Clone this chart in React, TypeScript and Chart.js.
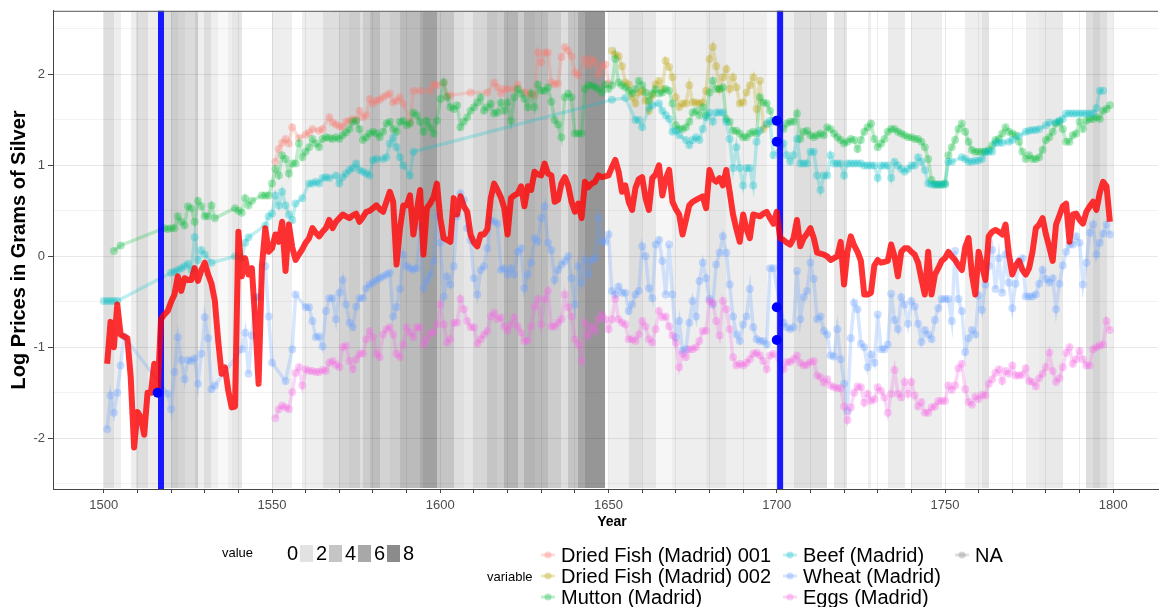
import React, { useEffect, useRef } from "react";
import { Chart, registerables } from "chart.js";
Chart.register(...registerables);

const FONT = '"Liberation Sans", Arial, sans-serif';
const X_MIN = 1484.9;
const X_MAX = 1813.3;
const Y_MIN = -2.557;
const Y_MAX = 2.699;

const xTickValues = [1500,1510,1520,1530,1540,1550,1560,1570,1580,1590,1600,1610,1620,1630,1640,1650,1660,1670,1680,1690,1700,1710,1720,1730,1740,1750,1760,1770,1780,1790,1800];
const xLabelValues = [1500, 1550, 1600, 1650, 1700, 1750, 1800];
const yTickValues = [-2.5,-2,-1.5,-1,-0.5,0,0.5,1,1.5,2,2.5];
const yLabelValues = [-2, -1, 0, 1, 2];

// background "value" bands (start year, end year, value)
const bandStart = [1500,1503,1505,1508,1509.5,1513,1518,1520,1522,1524,1527,1528,1530,1532,1534,1537,1538,1541,1550,1556,1559,1565,1570,1573,1576,1577,1579,1582,1585,1588,1594,1595,1599,1604,1607,1610,1614,1617,1619,1623,1625,1628,1632,1636,1638,1641,1643,1649,1650,1656,1660,1664,1669,1679,1685,1697,1701,1705,1715,1717,1721,1727,1728,1733,1738,1740,1749,1756,1761,1763,1774,1778,1785,1792,1794,1796,1798];
const bandEnd   = [1503,1505,1508,1509.5,1513,1518,1520,1522,1524,1527,1528,1530,1532,1534,1537,1538,1541,1550,1556,1559,1565,1570,1573,1576,1577,1579,1582,1585,1588,1594,1595,1599,1604,1607,1610,1614,1617,1619,1623,1625,1628,1632,1636,1638,1641,1643,1649,1650,1656,1660,1664,1669,1679,1685,1697,1701,1705,1715,1717,1721,1727,1728,1733,1738,1740,1749,1756,1761,1763,1774,1778,1785,1792,1794,1796,1798,1800];
const bandValue = [2.3,1.2,0,1.2,2.3,1.2,2.3,3.5,3.0,2.5,3.5,1.2,2.3,1.2,0.5,1.2,1.7,0,1.2,0,1.2,2.3,3.0,3.5,2.3,3.5,4.5,3.0,3.5,4.7,5.8,6.5,4.0,2.3,1.7,2.8,4.0,3.5,5.2,3.5,5.2,4.7,3.5,2.3,4.0,6.0,7.2,0,1.2,2.3,1.7,0.6,1.2,1.7,1.2,0.5,1.2,2.3,0,1.7,0,1.2,0,1.4,0,1.2,0,1.2,2.0,0,1.2,1.5,0,2.3,3.0,2.3,1.2];
const legendValues = [0, 2, 4, 6, 8];
const ALPHA_PER_VALUE = 0.057;

const composite: [number, number][] = [
[1501,-1.18],[1502,-0.72],[1503,-1.0],[1504,-0.53],[1505,-0.86],[1506,-0.88],[1507,-0.9],[1508,-1.33],[1509,-2.1],[1510,-1.71],
[1511,-1.77],[1512,-1.96],[1513,-1.5],[1514,-1.5],[1515,-1.18],[1516,-1.5],[1517,-0.69],[1518,-0.64],[1519,-0.6],[1520,-0.5],
[1521,-0.42],[1522,-0.22],[1523,-0.38],[1524,-0.24],[1525,-0.26],[1526,-0.26],[1527,-0.13],[1528,-0.27],[1529,-0.15],[1530,-0.07],
[1531,-0.2],[1532,-0.3],[1533,-0.49],[1534,-0.93],[1535,-1.29],[1536,-1.22],[1537,-1.48],[1538,-1.66],[1539,-1.65],[1540,0.27],
[1541,-0.22],[1542,-0.02],[1543,-0.2],[1544,-0.13],[1545,-0.71],[1546,-1.4],[1547,-0.1],[1548,0.31],[1549,0.05],[1550,0.09],
[1551,0.24],[1552,0.16],[1553,0.38],[1554,-0.16],[1555,0.35],[1556,0.1],[1557,-0.04],[1558,0.02],[1559,0.08],[1560,0.15],
[1561,0.2],[1562,0.31],[1563,0.26],[1564,0.22],[1565,0.27],[1566,0.31],[1567,0.4],[1568,0.31],[1569,0.38],[1570,0.42],
[1571,0.46],[1572,0.44],[1573,0.42],[1574,0.45],[1575,0.47],[1576,0.38],[1577,0.43],[1578,0.49],[1579,0.5],[1580,0.53],
[1581,0.56],[1582,0.52],[1583,0.49],[1584,0.6],[1585,0.71],[1586,0.6],[1587,-0.09],[1588,0.3],[1589,0.56],[1590,0.56],
[1591,0.67],[1592,0.24],[1593,0.5],[1594,0.73],[1595,0.02],[1596,0.53],[1597,0.58],[1598,0.65],[1599,0.8],[1600,0.42],
[1601,0.2],[1602,0.18],[1603,0.16],[1604,0.64],[1605,0.46],[1606,0.66],[1607,0.55],[1608,0.49],[1609,0.24],[1610,0.15],
[1611,0.11],[1612,0.24],[1613,0.24],[1614,0.3],[1615,0.64],[1616,0.8],[1617,0.73],[1618,0.65],[1619,0.53],[1620,0.24],
[1621,0.64],[1622,0.67],[1623,0.69],[1624,0.77],[1625,0.55],[1626,0.77],[1627,0.73],[1628,0.93],[1629,0.9],[1630,0.89],
[1631,1.02],[1632,0.91],[1633,0.89],[1634,0.6],[1635,0.62],[1636,0.8],[1637,0.87],[1638,0.78],[1639,0.6],[1640,0.49],
[1641,0.58],[1642,0.42],[1643,0.82],[1644,0.76],[1645,0.8],[1646,0.82],[1647,0.89],[1648,0.87],[1649,0.88],[1650,0.89],
[1651,0.98],[1652,1.06],[1653,0.93],[1654,0.71],[1655,0.78],[1656,0.6],[1657,0.51],[1658,0.75],[1659,0.85],[1660,0.87],
[1661,0.64],[1662,0.51],[1663,0.86],[1664,0.9],[1665,1.0],[1666,0.67],[1667,0.85],[1668,0.95],[1669,0.6],[1670,0.52],
[1671,0.46],[1672,0.24],[1673,0.4],[1674,0.56],[1675,0.6],[1676,0.62],[1677,0.64],[1678,0.66],[1679,0.53],[1680,0.95],
[1681,0.85],[1682,0.82],[1683,0.86],[1684,0.78],[1685,0.95],[1686,0.71],[1687,0.46],[1688,0.3],[1689,0.16],[1690,0.46],
[1691,0.3],[1692,0.2],[1693,0.46],[1694,0.45],[1695,0.44],[1696,0.47],[1697,0.49],[1698,0.42],[1699,0.36],[1700,0.49],
[1701,0.2],[1702,0.18],[1703,0.15],[1704,0.13],[1705,0.2],[1706,0.4],[1707,0.11],[1708,0.2],[1709,0.25],[1710,0.31],
[1711,0.2],[1712,0.04],[1713,0.03],[1714,0.02],[1715,0.0],[1716,-0.04],[1717,-0.02],[1718,0.0],[1719,0.16],[1720,-0.31],
[1721,0.05],[1722,0.22],[1723,0.12],[1724,0.05],[1725,-0.05],[1726,-0.42],[1727,-0.42],[1728,-0.4],[1729,-0.1],[1730,-0.04],
[1731,-0.07],[1732,-0.06],[1733,-0.05],[1734,0.13],[1735,0.0],[1736,-0.22],[1737,0.05],[1738,0.09],[1739,0.09],[1740,0.05],
[1741,0.02],[1742,-0.07],[1743,-0.25],[1744,-0.42],[1745,0.05],[1746,-0.42],[1747,-0.2],[1748,-0.13],[1749,-0.05],[1750,-0.02],
[1751,0.05],[1752,0.0],[1753,-0.04],[1754,-0.1],[1755,-0.15],[1756,0.1],[1757,0.2],[1758,-0.2],[1759,-0.42],[1760,0.05],
[1761,-0.1],[1762,-0.26],[1763,0.22],[1764,0.27],[1765,0.29],[1766,0.27],[1767,0.24],[1768,0.35],[1769,0.02],[1770,-0.2],
[1771,-0.1],[1772,-0.05],[1773,-0.15],[1774,-0.2],[1775,-0.13],[1776,0.05],[1777,0.31],[1778,0.35],[1779,0.42],[1780,0.24],
[1781,0.1],[1782,-0.05],[1783,0.35],[1784,0.45],[1785,0.55],[1786,0.58],[1787,0.16],[1788,0.46],[1789,0.47],[1790,0.4],
[1791,0.36],[1792,0.49],[1793,0.55],[1794,0.6],[1795,0.51],[1796,0.7],[1797,0.82],[1798,0.77],[1799,0.38]];

const wheat: [number, number][] = [
[1501,-1.9],[1502,-1.53],[1503,-1.72],[1504,-1.5],[1505,-1.2],[1506,-0.88],[1519,-1.51],[1520,-1.68],[1521,-1.27],[1522,-0.89],
[1523,-1.14],[1524,-1.35],[1525,-1.14],[1526,-1.15],[1527,-1.12],[1528,-1.4],[1529,-1.07],[1530,-0.67],[1531,-0.9],[1532,-1.46],
[1533,-1.42],[1541,-1.02],[1542,-0.84],[1543,-1.29],[1544,-0.87],[1545,-0.45],[1546,-0.45],[1548,-0.11],[1549,-0.66],[1550,-1.17],
[1554,-1.37],[1556,-1.02],[1557,-0.42],[1560,-0.56],[1561,-0.56],[1562,-0.71],[1563,-0.89],[1564,-0.88],[1565,-0.99],[1566,-0.6],
[1567,-0.46],[1568,-0.46],[1569,-0.69],[1570,-0.4],[1571,-0.26],[1572,-0.53],[1573,-0.73],[1574,-0.78],[1575,-0.55],[1576,-0.46],
[1577,-0.46],[1578,-0.35],[1579,-0.31],[1580,-0.29],[1581,-0.26],[1582,-0.24],[1583,-0.22],[1584,-0.2],[1585,-0.18],[1586,-0.66],
[1587,-0.56],[1588,-0.36],[1589,0.02],[1590,-0.11],[1591,-0.13],[1592,-0.15],[1593,-0.13],[1594,0.33],[1595,-0.35],[1596,-0.27],
[1597,-0.2],[1598,-0.05],[1599,0.44],[1600,0.15],[1601,-0.44],[1602,-0.22],[1603,-0.31],[1604,-0.11],[1605,0.44],[1606,0.69],
[1607,0.62],[1608,0.31],[1609,0.18],[1610,-0.24],[1611,-0.42],[1612,-0.15],[1613,-0.11],[1614,0.09],[1615,0.4],[1616,0.38],
[1617,0.36],[1618,-0.15],[1619,-0.13],[1620,-0.2],[1621,-0.13],[1622,-0.2],[1623,0.05],[1624,0.09],[1625,-0.35],[1626,-0.2],
[1627,-0.07],[1628,0.2],[1629,0.16],[1630,0.42],[1631,0.55],[1632,0.15],[1633,0.07],[1634,-0.26],[1635,-0.15],[1636,-0.09],
[1637,-0.05],[1638,0],[1639,-0.24],[1640,-0.53],[1641,-0.11],[1642,-0.29],[1643,-0.04],[1644,-0.2],[1645,-0.04],[1646,-0.02],
[1647,0.42],[1648,0.16],[1649,0.16],[1650,0.24],[1651,-0.38],[1652,-0.42],[1653,-0.33],[1654,-0.4],[1655,-0.4],[1656,-0.6],
[1657,-0.53],[1658,-0.42],[1659,-0.38],[1660,0.11],[1661,0],[1662,-0.35],[1663,-0.46],[1664,0.13],[1665,0.18],[1666,-0.05],
[1667,-0.42],[1668,0.13],[1669,-0.42],[1670,-0.89],[1671,-0.71],[1672,-1.04],[1673,-1.02],[1674,-0.73],[1675,-0.49],[1676,-0.66],
[1677,-0.27],[1678,-0.07],[1679,-0.24],[1680,-0.47],[1681,-0.53],[1682,-0.09],[1683,0.04],[1684,0.22],[1685,0.04],[1686,-0.31],
[1687,-0.66],[1688,-0.86],[1689,-0.93],[1690,-0.75],[1691,-0.66],[1692,-0.36],[1693,-0.78],[1694,-0.91],[1695,-0.93],[1696,-0.93],
[1697,-0.97],[1698,-0.13],[1699,-0.13],[1702,-0.73],[1703,-0.78],[1704,-0.8],[1705,-0.78],[1706,-0.16],[1707,-0.69],[1708,-0.45],
[1709,-0.38],[1710,-0.07],[1711,-0.25],[1712,-0.69],[1713,-0.66],[1714,-0.82],[1715,-0.86],[1716,-1.09],[1717,-1.1],[1718,-0.8],
[1719,-1.13],[1720,-1.4],[1721,-1.7],[1722,-0.9],[1723,-0.51],[1724,-0.58],[1725,-0.96],[1726,-1.0],[1727,-1.22],[1728,-1.08],
[1729,-1.17],[1730,-0.64],[1731,-1.02],[1732,-1.02],[1733,-0.97],[1734,-0.41],[1735,-0.7],[1736,-0.8],[1737,-0.45],[1738,-0.53],
[1739,-0.74],[1740,-0.49],[1741,-0.55],[1742,-0.74],[1743,-0.94],[1744,-0.81],[1745,-0.86],[1746,-0.91],[1747,-0.7],[1748,-0.57],
[1749,-0.47],[1750,-0.47],[1751,-0.47],[1752,-0.71],[1753,0.06],[1754,-0.47],[1755,-0.6],[1756,-1.05],[1757,-0.9],[1758,-0.81],
[1759,-0.86],[1760,-0.43],[1761,-0.59],[1762,-0.31],[1763,-0.11],[1764,0.07],[1765,-0.36],[1766,-0.02],[1767,-0.4],[1768,0.02],
[1769,-0.29],[1770,-0.57],[1771,-0.3],[1772,-0.05],[1773,-0.02],[1774,-0.44],[1775,-0.44],[1776,-0.44],[1777,-0.42],[1778,-0.3],
[1779,-0.15],[1780,-0.25],[1781,-0.29],[1782,-0.24],[1783,-0.58],[1784,-0.3],[1785,-0.1],[1786,0.05],[1787,0.13],[1788,0.13],
[1789,0.22],[1790,0.15],[1791,-0.31],[1792,-0.07],[1793,0.26],[1794,0.35],[1795,0.02],[1796,0.15],[1797,0.25],[1798,0.35],[1799,0.24]];

const eggs: [number, number][] = [
[1551,-1.78],[1552,-1.68],[1553,-1.64],[1554,-1.66],[1555,-1.68],[1556,-1.49],[1557,-1.28],[1558,-1.22],[1559,-1.42],[1560,-1.24],
[1561,-1.26],[1562,-1.26],[1563,-1.27],[1564,-1.27],[1565,-1.25],[1566,-1.26],[1567,-1.17],[1568,-1.15],[1569,-1.19],[1570,-1.22],
[1571,-1.0],[1572,-0.98],[1573,-1.15],[1574,-1.24],[1575,-1.13],[1576,-1.07],[1577,-1.07],[1578,-0.91],[1579,-0.82],[1580,-0.89],
[1581,-1.07],[1582,-1.11],[1583,-0.86],[1584,-0.8],[1585,-0.78],[1586,-0.86],[1587,-1.07],[1588,-1.11],[1589,-0.97],[1590,-0.78],
[1591,-0.84],[1592,-0.89],[1593,-0.78],[1594,-0.78],[1595,-0.97],[1596,-0.91],[1597,-0.84],[1598,-0.84],[1599,-0.75],[1600,-0.53],
[1601,-0.75],[1602,-0.95],[1603,-0.91],[1604,-0.73],[1605,-0.73],[1606,-0.47],[1607,-0.58],[1608,-0.71],[1609,-0.78],[1610,-0.78],
[1611,-0.96],[1612,-0.91],[1613,-0.86],[1614,-0.82],[1615,-0.66],[1616,-0.62],[1617,-0.69],[1618,-0.67],[1619,-0.77],[1620,-0.82],
[1621,-0.75],[1622,-0.67],[1623,-0.77],[1624,-0.84],[1625,-0.93],[1626,-0.93],[1627,-0.77],[1628,-0.55],[1629,-0.47],[1630,-0.75],
[1631,-0.47],[1632,-0.38],[1633,-0.77],[1634,-0.77],[1635,-0.73],[1636,-0.69],[1637,-0.42],[1638,-0.56],[1639,-0.66],[1640,-0.91],
[1641,-0.97],[1642,-1.15],[1643,-0.73],[1644,-0.87],[1645,-0.77],[1646,-0.82],[1647,-0.69],[1648,-0.64],[1649,-0.69],[1650,-0.8],
[1651,-0.69],[1652,-0.47],[1653,-0.69],[1654,-0.73],[1655,-0.75],[1656,-0.91],[1657,-0.91],[1658,-0.93],[1659,-0.86],[1660,-0.71],
[1661,-0.77],[1662,-0.91],[1663,-0.95],[1664,-0.8],[1665,-0.6],[1666,-0.67],[1667,-0.66],[1668,-0.77],[1669,-0.87],[1670,-0.95],
[1671,-1.22],[1672,-1.07],[1673,-1.11],[1674,-1.02],[1675,-1.02],[1676,-1.0],[1677,-0.93],[1678,-0.82],[1679,-0.82],[1680,-0.49],
[1681,-0.51],[1682,-0.71],[1683,-0.87],[1684,-0.49],[1685,-0.58],[1686,-0.8],[1687,-1.11],[1688,-1.2],[1689,-1.18],[1690,-1.2],
[1691,-1.17],[1692,-1.13],[1693,-1.07],[1694,-1.06],[1695,-1.09],[1696,-1.15],[1697,-1.24],[1698,-1.09],[1699,-1.07],[1702,-1.24],
[1703,-1.16],[1704,-1.16],[1705,-1.13],[1706,-1.09],[1707,-1.17],[1708,-1.2],[1709,-1.19],[1710,-1.16],[1711,-1.15],[1712,-1.31],
[1713,-1.33],[1714,-1.39],[1715,-1.35],[1716,-1.42],[1717,-1.44],[1718,-1.45],[1719,-1.45],[1720,-1.65],[1721,-1.8],[1722,-1.66],
[1723,-1.5],[1724,-1.43],[1725,-1.44],[1726,-1.61],[1727,-1.51],[1728,-1.59],[1729,-1.57],[1730,-1.44],[1731,-1.48],[1732,-1.55],
[1733,-1.72],[1734,-1.51],[1735,-1.25],[1736,-1.51],[1737,-1.55],[1738,-1.38],[1739,-1.51],[1740,-1.38],[1741,-1.53],[1742,-1.65],
[1743,-1.6],[1744,-1.72],[1745,-1.72],[1746,-1.66],[1747,-1.65],[1748,-1.59],[1749,-1.59],[1750,-1.59],[1751,-1.42],[1752,-1.47],
[1753,-1.42],[1754,-1.23],[1755,-1.18],[1756,-1.46],[1757,-1.6],[1758,-1.63],[1759,-1.54],[1760,-1.57],[1761,-1.52],[1762,-1.53],
[1763,-1.4],[1764,-1.35],[1765,-1.28],[1766,-1.24],[1767,-1.37],[1768,-1.26],[1769,-1.29],[1770,-1.2],[1771,-1.31],[1772,-1.31],
[1773,-1.3],[1774,-1.23],[1775,-1.37],[1776,-1.38],[1777,-1.43],[1778,-1.34],[1779,-1.29],[1780,-1.22],[1781,-1.06],[1782,-1.26],
[1783,-1.38],[1784,-1.34],[1785,-1.22],[1786,-1.06],[1787,-1.0],[1788,-1.18],[1789,-1.13],[1790,-1.04],[1791,-1.13],[1792,-1.2],
[1793,-1.2],[1794,-1.02],[1795,-1.0],[1796,-0.98],[1797,-0.97],[1798,-0.71],[1799,-0.81]];

const mutton: [number, number][] = [
[1503,0.06],[1505,0.12],[1518,0.31],[1519,0.3],[1520,0.31],[1521,0.31],[1522,0.44],[1523,0.38],[1524,0.34],[1525,0.55],
[1526,0.53],[1527,0.38],[1528,0.61],[1529,0.55],[1530,0.44],[1531,0.44],[1532,0.56],[1533,0.42],[1539,0.53],[1540,0.5],
[1541,0.48],[1542,0.64],[1543,0.56],[1544,0.61],[1547,0.67],[1548,0.67],[1549,0.67],[1550,0.8],[1551,0.96],[1552,0.89],
[1553,1.11],[1554,1.07],[1555,0.91],[1556,1.02],[1557,1.02],[1558,1.24],[1559,1.09],[1560,1.15],[1561,1.2],[1562,1.29],
[1563,1.24],[1564,1.2],[1565,1.29],[1566,1.31],[1567,1.3],[1568,1.29],[1569,1.31],[1570,1.29],[1571,1.33],[1572,1.36],
[1573,1.4],[1574,1.48],[1575,1.49],[1576,1.4],[1577,1.28],[1578,1.31],[1579,1.35],[1580,1.37],[1581,1.35],[1582,1.31],
[1583,1.37],[1584,1.46],[1585,1.48],[1586,1.4],[1587,1.37],[1588,1.48],[1589,1.49],[1590,1.44],[1591,1.46],[1592,1.58],
[1593,1.55],[1594,1.48],[1595,1.37],[1596,1.49],[1597,1.42],[1598,1.35],[1599,1.49],[1600,1.73],[1601,1.91],[1602,1.75],
[1603,1.64],[1604,1.62],[1605,1.66],[1606,1.42],[1607,1.48],[1608,1.53],[1609,1.6],[1610,1.64],[1611,1.69],[1612,1.75],
[1613,1.6],[1614,1.64],[1615,1.68],[1616,1.57],[1617,1.58],[1618,1.69],[1619,1.6],[1620,1.69],[1621,1.49],[1622,1.75],
[1623,1.84],[1624,1.79],[1625,1.73],[1626,1.64],[1627,1.79],[1628,1.64],[1629,1.89],[1630,1.82],[1631,1.82],[1632,1.86],
[1633,1.7],[1634,1.5],[1635,1.45],[1636,1.31],[1637,1.75],[1638,1.79],[1639,1.75],[1640,1.35],[1641,1.35],[1642,1.35],
[1643,1.84],[1644,1.88],[1645,1.88],[1646,1.86],[1647,1.84],[1648,1.8],[1649,1.89],[1650,1.84],[1651,1.88],[1652,2.17],
[1653,1.91],[1654,1.88],[1655,1.86],[1656,1.82],[1657,1.79],[1658,1.84],[1659,1.93],[1660,1.88],[1661,1.8],[1662,1.71],
[1663,1.79],[1664,1.84],[1665,1.79],[1666,1.8],[1667,1.84],[1668,1.82],[1669,1.68],[1670,1.44],[1671,1.4],[1672,1.4],
[1673,1.42],[1674,1.48],[1675,1.58],[1676,1.6],[1677,1.55],[1678,1.64],[1679,1.55],[1680,1.8],[1681,1.93],[1682,1.84],
[1683,1.84],[1684,1.86],[1685,1.51],[1686,1.48],[1687,1.38],[1688,1.38],[1689,1.35],[1690,1.31],[1691,1.31],[1692,1.35],
[1693,1.37],[1694,1.35],[1695,1.75],[1696,1.69],[1697,1.68],[1698,1.6],[1699,1.48],[1702,1.4],[1703,1.46],[1704,1.48],
[1705,1.48],[1706,1.57],[1707,1.29],[1708,1.37],[1709,1.38],[1710,1.33],[1711,1.31],[1712,1.33],[1713,1.35],[1714,1.33],
[1715,1.42],[1716,1.4],[1717,1.35],[1718,1.31],[1719,1.28],[1720,1.24],[1721,1.26],[1722,1.29],[1723,1.28],[1724,1.18],
[1725,1.28],[1726,1.37],[1727,1.42],[1728,1.46],[1729,1.29],[1730,1.2],[1731,1.24],[1732,1.29],[1733,1.37],[1734,1.4],
[1735,1.4],[1736,1.37],[1737,1.35],[1738,1.33],[1739,1.31],[1740,1.31],[1741,1.29],[1742,1.29],[1743,1.26],[1744,1.2],
[1745,1.07],[1746,0.84],[1747,0.79],[1748,0.79],[1749,0.79],[1750,0.8],[1751,1.11],[1752,1.2],[1753,1.28],[1754,1.4],
[1755,1.46],[1756,1.37],[1757,1.26],[1758,1.17],[1759,1.15],[1760,1.15],[1761,1.15],[1762,1.15],[1763,1.17],[1764,1.22],
[1765,1.28],[1766,1.29],[1767,1.35],[1768,1.42],[1769,1.37],[1770,1.35],[1771,1.33],[1772,1.26],[1773,1.15],[1774,1.07],
[1775,1.11],[1776,1.07],[1777,1.07],[1778,1.09],[1779,1.17],[1780,1.28],[1781,1.31],[1782,1.37],[1783,1.46],[1784,1.48],
[1785,1.4],[1786,1.26],[1787,1.26],[1788,1.33],[1789,1.35],[1790,1.48],[1791,1.4],[1792,1.49],[1793,1.51],[1794,1.51],
[1795,1.53],[1796,1.51],[1797,1.6],[1798,1.62],[1799,1.66]];

const beef: [number, number][] = [
[1500,-0.49],[1501,-0.49],[1502,-0.49],[1503,-0.49],[1504,-0.49],[1520,-0.18],[1521,-0.17],[1522,-0.15],[1523,-0.13],[1524,-0.11],
[1525,-0.08],[1526,-0.15],[1527,0.21],[1528,-0.04],[1529,0.07],[1530,0.02],[1532,-0.07],[1539,0.0],[1541,-0.02],[1542,0.15],
[1543,0.21],[1548,0.34],[1549,0.44],[1550,0.47],[1551,0.67],[1552,0.56],[1553,0.71],[1554,0.56],[1555,0.46],[1556,0.4],
[1557,0.58],[1559,0.64],[1561,0.8],[1562,0.8],[1563,0.82],[1564,0.8],[1565,0.86],[1566,0.87],[1567,0.86],[1569,0.89],
[1570,0.8],[1571,0.87],[1572,0.91],[1573,0.95],[1574,0.97],[1575,1.02],[1576,0.95],[1577,0.93],[1578,0.91],[1579,0.89],
[1580,1.06],[1581,1.07],[1583,1.07],[1584,1.09],[1585,1.24],[1586,1.31],[1587,1.2],[1588,1.09],[1589,1.0],[1591,0.89],
[1592,1.15],[1651,1.72],[1655,1.74],[1658,1.5],[1659,1.5],[1660,1.42],[1662,1.63],[1663,1.66],[1665,1.68],[1666,1.6],
[1667,1.55],[1668,1.51],[1669,1.37],[1670,1.38],[1671,1.33],[1673,1.28],[1674,1.22],[1675,1.28],[1676,1.31],[1677,1.28],
[1678,1.4],[1679,1.53],[1680,1.58],[1681,1.48],[1682,1.58],[1683,1.58],[1684,1.58],[1685,1.48],[1686,1.29],[1687,0.97],
[1688,1.2],[1689,0.97],[1690,0.78],[1691,0.97],[1692,0.97],[1693,0.78],[1694,1.26],[1695,1.38],[1697,1.46],[1698,1.49],
[1699,1.11],[1702,1.24],[1703,1.11],[1704,1.04],[1705,1.11],[1706,1.29],[1707,1.02],[1708,1.02],[1709,1.02],[1710,1.15],
[1711,1.15],[1712,0.89],[1713,0.73],[1714,0.89],[1715,0.89],[1716,1.11],[1717,1.02],[1718,1.02],[1719,1.02],[1720,0.89],
[1721,1.02],[1722,1.02],[1723,1.02],[1724,1.02],[1725,1.02],[1726,1.0],[1727,1.0],[1728,1.0],[1729,1.0],[1730,0.86],
[1731,1.0],[1732,1.0],[1733,1.0],[1734,0.86],[1735,1.04],[1736,1.0],[1737,0.96],[1738,0.93],[1739,0.96],[1740,1.0],
[1741,1.0],[1742,1.09],[1743,1.04],[1744,0.95],[1745,0.8],[1746,0.79],[1747,0.79],[1748,0.79],[1749,0.79],[1750,0.79],
[1751,1.04],[1752,1.04],[1755,1.09],[1756,1.07],[1757,1.04],[1758,1.04],[1759,1.05],[1760,1.05],[1761,1.07],[1762,1.15],
[1763,1.15],[1764,1.15],[1765,1.25],[1766,1.25],[1767,1.25],[1769,1.26],[1770,1.28],[1772,1.32],[1774,1.37],[1775,1.38],
[1776,1.39],[1777,1.39],[1778,1.4],[1780,1.44],[1781,1.47],[1783,1.47],[1784,1.49],[1785,1.51],[1786,1.57],[1787,1.57],
[1788,1.57],[1789,1.57],[1790,1.57],[1791,1.57],[1792,1.57],[1793,1.57],[1794,1.57],[1795,1.63],[1796,1.82],[1797,1.82]];

const driedFish001: [number, number][] = [
[1551,1.04],[1552,1.18],[1553,1.25],[1554,1.29],[1555,1.24],[1556,1.42],[1558,1.3],[1560,1.34],[1561,1.36],[1562,1.4],
[1564,1.38],[1565,1.4],[1567,1.53],[1568,1.47],[1569,1.45],[1570,1.43],[1571,1.42],[1572,1.48],[1573,1.49],[1574,1.51],
[1575,1.5],[1576,1.6],[1577,1.53],[1578,1.55],[1579,1.73],[1580,1.68],[1581,1.71],[1582,1.72],[1583,1.75],[1584,1.77],
[1585,1.79],[1586,1.69],[1587,1.71],[1588,1.75],[1589,1.68],[1591,1.48],[1592,1.82],[1594,1.82],[1597,1.82],[1598,1.89],
[1599,1.88],[1601,1.91],[1602,1.76],[1603,1.77],[1609,1.8],[1614,1.8],[1616,1.91],[1617,1.86],[1618,1.79],[1619,1.84],
[1620,1.84],[1622,1.84],[1623,1.89],[1625,1.8],[1626,1.8],[1627,1.77],[1628,1.77],[1629,2.24],[1630,2.13],[1631,2.24],
[1632,2.24],[1633,1.91],[1634,1.89],[1635,1.9],[1636,2.19],[1637,2.3],[1638,2.26],[1639,2.2],[1640,2.02],[1641,1.99],
[1643,2.17],[1644,2.1],[1645,2.17],[1646,2.13],[1647,2.0],[1648,2.08],[1649,2.11],[1650,1.9]];

const driedFish002: [number, number][] = [
[1651,2.26],[1652,2.22],[1653,2.2],[1654,2.09],[1655,1.91],[1656,1.89],[1657,1.75],[1658,1.68],[1659,1.8],[1660,1.82],
[1661,1.71],[1662,1.6],[1663,1.77],[1664,1.89],[1665,1.93],[1666,1.84],[1667,2.15],[1668,2.08],[1669,1.97],[1670,1.75],
[1671,1.64],[1672,1.68],[1673,1.68],[1674,1.88],[1675,1.69],[1676,1.69],[1677,1.68],[1678,1.69],[1679,1.82],[1680,2.17],
[1681,2.3],[1682,2.09],[1683,1.84],[1684,1.97],[1685,2.06],[1686,1.84],[1687,1.97],[1688,1.86],[1689,1.68],[1690,1.69],
[1691,1.8],[1692,1.88],[1693,1.97],[1694,1.62],[1695,1.93],[1696,1.4],[1697,1.45]];

const markerLineYears = [1517, 1701];
const markerPoints: [number, number][] = [[1516,-1.5],[1700,1.49],[1700,1.26],[1700,-0.56],[1700,-0.92]];

const seriesLabels = ["Dried Fish (Madrid) 001","Dried Fish (Madrid) 002","Mutton (Madrid)","Beef (Madrid)","Wheat (Madrid)","Eggs (Madrid)"];
const seriesColors = ["248,118,109","183,159,0","0,186,56","0,191,196","97,156,255","245,100,227"];
const seriesData = [driedFish001, driedFish002, mutton, beef, wheat, eggs];
const naLabel = "NA";
const naColor = "127,127,127";
const LINE_ALPHA = 0.25;
const POINT_ALPHA = 0.32;

const toXY = (pts: [number, number][]) => pts.map(([x, y]) => ({ x, y }));

const bandsPlugin = {
  id: "bands",
  beforeDatasetsDraw(chart: any) {
    const { ctx, chartArea, scales } = chart;
    const xs = scales.x;
    ctx.save();
    for (let i = 0; i < bandStart.length; i++) {
      const v = bandValue[i];
      if (v <= 0) continue;
      const x0 = Math.round(xs.getPixelForValue(bandStart[i]));
      const x1 = Math.round(xs.getPixelForValue(bandEnd[i]));
      ctx.fillStyle = `rgba(0,0,0,${(v * ALPHA_PER_VALUE).toFixed(3)})`;
      ctx.fillRect(x0, chartArea.top + 1, x1 - x0, chartArea.bottom - chartArea.top - 2);
    }
    ctx.restore();
  },
};

const decorPlugin = {
  id: "decor",
  afterDraw(chart: any) {
    const { ctx, chartArea } = chart;
    ctx.save();
    // top border
    ctx.strokeStyle = "#555";
    ctx.lineWidth = 1;
    ctx.beginPath();
    ctx.moveTo(chartArea.left, chartArea.top + 0.5);
    ctx.lineTo(chartArea.right, chartArea.top + 0.5);
    ctx.stroke();

    // axis titles
    ctx.fillStyle = "#000";
    ctx.textAlign = "center";
    ctx.textBaseline = "middle";
    ctx.font = `bold 20px ${FONT}`;
    ctx.save();
    ctx.translate(19, (chartArea.top + chartArea.bottom) / 2);
    ctx.rotate(-Math.PI / 2);
    ctx.fillText("Log Prices in Grams of Silver", 0, 0);
    ctx.restore();
    ctx.font = `bold 14px ${FONT}`;
    ctx.fillText("Year", 612, 522);

    // value legend
    ctx.textAlign = "left";
    ctx.font = `13px ${FONT}`;
    ctx.fillText("value", 222, 553);
    ctx.font = `20px ${FONT}`;
    legendValues.forEach((v, i) => {
      const lx = 287 + 29 * i;
      if (v > 0) {
        ctx.fillStyle = `rgba(0,0,0,${(v * ALPHA_PER_VALUE).toFixed(3)})`;
        ctx.fillRect(lx - 16, 545, 13, 17);
      }
      ctx.fillStyle = "#000";
      ctx.fillText(String(v), lx, 554);
    });

    // variable legend
    ctx.font = `13px ${FONT}`;
    ctx.fillText("variable", 487, 577);
    const entries = seriesLabels.map((l, i) => ({ label: l, color: seriesColors[i] }));
    entries.push({ label: naLabel, color: naColor });
    const pos = [[548, 555], [548, 576], [548, 597], [790, 555], [790, 576], [790, 597], [962, 555]];
    ctx.font = `20px ${FONT}`;
    entries.forEach((e, i) => {
      const [kx, ky] = pos[i];
      ctx.strokeStyle = `rgba(${e.color},${LINE_ALPHA})`;
      ctx.lineWidth = 3;
      ctx.beginPath();
      ctx.moveTo(kx - 7, ky);
      ctx.lineTo(kx + 7, ky);
      ctx.stroke();
      ctx.fillStyle = `rgba(${e.color},${POINT_ALPHA})`;
      ctx.beginPath();
      ctx.arc(kx, ky, 3.5, 0, Math.PI * 2);
      ctx.fill();
      ctx.fillStyle = "#000";
      ctx.fillText(e.label, kx + 13, ky + 1);
    });
    ctx.restore();
  },
};

export default function App() {
  const canvasRef = useRef<HTMLCanvasElement | null>(null);

  useEffect(() => {
    if (!canvasRef.current) return;
    const seriesDatasets = seriesData.map((pts, i) => ({
      label: seriesLabels[i],
      data: toXY(pts),
      borderColor: `rgba(${seriesColors[i]},${LINE_ALPHA})`,
      backgroundColor: `rgba(${seriesColors[i]},${POINT_ALPHA})`,
      pointBackgroundColor: `rgba(${seriesColors[i]},${POINT_ALPHA})`,
      pointBorderWidth: 0,
      pointRadius: 4,
      borderWidth: 3.5,
      tension: 0,
      order: 10 - i,
    }));
    const markerLines = markerLineYears.map((yr) => ({
      label: "marker",
      data: [{ x: yr, y: Y_MIN - 1 }, { x: yr, y: Y_MAX + 1 }],
      borderColor: "rgba(0,0,255,0.9)",
      borderWidth: 6,
      pointRadius: 0,
      order: 2,
    }));
    const chart = new Chart(canvasRef.current, {
      type: "line",
      data: {
        datasets: [
          ...seriesDatasets,
          ...markerLines,
          {
            label: "composite",
            data: toXY(composite),
            borderColor: "rgba(255,0,0,0.8)",
            borderWidth: 6,
            pointRadius: 0,
            borderJoinStyle: "round",
            order: 1,
          },
          {
            label: "markers",
            data: toXY(markerPoints),
            showLine: false,
            pointRadius: 5,
            pointBorderWidth: 0,
            pointBackgroundColor: "rgb(0,0,255)",
            order: 0,
          },
        ] as any,
      },
      options: {
        animation: false,
        responsive: false,
        devicePixelRatio: 1,
        layout: { padding: { top: 8, left: 0, right: 0, bottom: 0 } },
        plugins: { legend: { display: false }, tooltip: { enabled: false } },
        scales: {
          x: {
            type: "linear",
            min: X_MIN,
            max: X_MAX,
            afterBuildTicks: (axis: any) => {
              axis.ticks = xTickValues.map((value) => ({ value }));
            },
            afterFit: (scale: any) => {
              scale.height = 118;
            },
            border: { display: true, color: "#444", width: 1 },
            grid: {
              color: (c: any) => (c.tick && xLabelValues.includes(c.tick.value) ? "rgba(0,0,0,0.09)" : "rgba(0,0,0,0.07)"),
              tickColor: "#444",
              tickLength: 4,
            },
            ticks: {
              autoSkip: false,
              maxRotation: 0,
              padding: 5,
              color: "#4D4D4D",
              font: { family: FONT, size: 13 },
              callback: (v: any) => (xLabelValues.includes(Number(v)) ? String(v) : ""),
            },
          },
          y: {
            type: "linear",
            min: Y_MIN,
            max: Y_MAX,
            afterBuildTicks: (axis: any) => {
              axis.ticks = yTickValues.map((value) => ({ value }));
            },
            afterFit: (scale: any) => {
              scale.width = 53;
            },
            border: { display: true, color: "#444", width: 1 },
            grid: {
              color: (c: any) => (c.tick && yLabelValues.includes(c.tick.value) ? "rgba(0,0,0,0.09)" : "rgba(0,0,0,0.05)"),
              tickColor: (c: any) => (c.tick && yLabelValues.includes(c.tick.value) ? "#444" : "rgba(0,0,0,0)"),
              tickLength: 5,
            },
            ticks: {
              autoSkip: false,
              padding: 3,
              color: "#4D4D4D",
              font: { family: FONT, size: 13 },
              callback: (v: any) => (yLabelValues.includes(Number(v)) ? String(v) : ""),
            },
          },
        },
      },
      plugins: [bandsPlugin, decorPlugin],
    });
    return () => chart.destroy();
  }, []);

  return (
    <div style={{ position: "fixed", left: 0, top: 0, width: 1163, height: 607, background: "#fff" }}>
      <canvas ref={canvasRef} width={1163} height={607} style={{ display: "block" }} />
    </div>
  );
}
